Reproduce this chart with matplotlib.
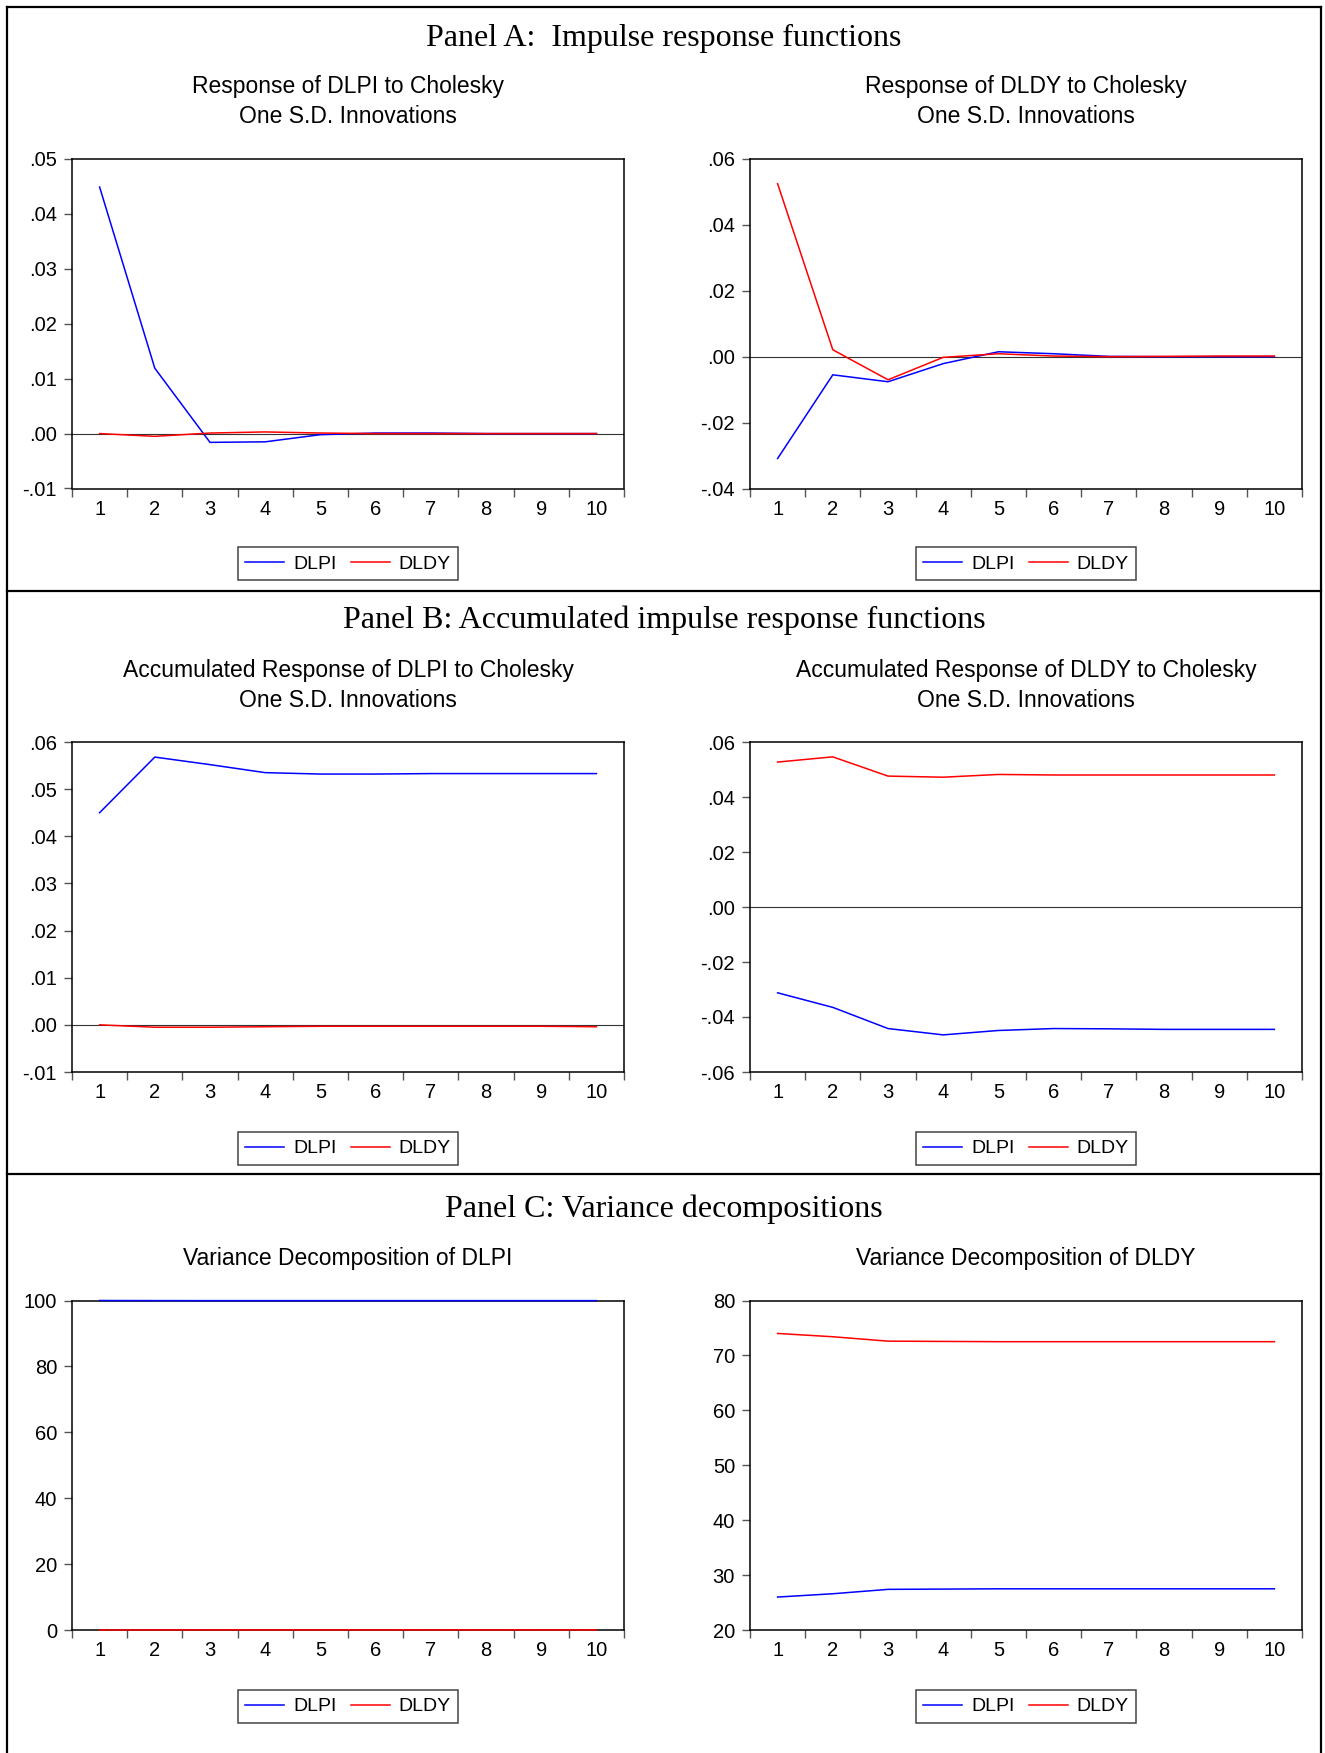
#!/usr/bin/env python3
"""Impulse responses, accumulated responses and variance decompositions (DLPI, DLDY)."""

import matplotlib

matplotlib.use("Agg")
import matplotlib.pyplot as plt
import numpy as np
from matplotlib.lines import Line2D
from matplotlib.ticker import FixedLocator, FuncFormatter, NullFormatter

periods = np.arange(1, 11)

irf_dlpi_dlpi = [0.0449, 0.0119, -0.0016, -0.0015, -0.0002, 0.0001, 0.0001, 0.0000, 0.0000, 0.0000]
irf_dlpi_dldy = [0.0000, -0.0005, 0.0001, 0.0003, 0.0001, 0.0000, 0.0000, 0.0000, 0.0000, 0.0000]
irf_dldy_dlpi = [-0.0309, -0.0055, -0.0076, -0.0021, 0.0015, 0.0009, 0.0001, 0.0000, 0.0000, 0.0000]
irf_dldy_dldy = [0.0525, 0.0021, -0.0070, -0.0002, 0.0009, 0.0002, 0.0000, 0.0001, 0.0002, 0.0002]

acc_dlpi_dlpi = [0.0450, 0.0568, 0.0552, 0.0535, 0.0532, 0.0532, 0.0533, 0.0533, 0.0533, 0.0533]
acc_dlpi_dldy = [0.0000, -0.0005, -0.0005, -0.0004, -0.0003, -0.0003, -0.0003, -0.0003, -0.0003, -0.0004]
acc_dldy_dlpi = [-0.0312, -0.0365, -0.0442, -0.0465, -0.0449, -0.0442, -0.0443, -0.0445, -0.0445, -0.0445]
acc_dldy_dldy = [0.0527, 0.0546, 0.0476, 0.0472, 0.0482, 0.0480, 0.0480, 0.0480, 0.0480, 0.0480]

vd_dlpi_dlpi = [100.0, 99.97, 99.96, 99.96, 99.96, 99.96, 99.96, 99.96, 99.96, 99.96]
vd_dlpi_dldy = [0.0, 0.03, 0.04, 0.04, 0.04, 0.04, 0.04, 0.04, 0.04, 0.04]
vd_dldy_dlpi = [26.0, 26.6, 27.4, 27.45, 27.5, 27.5, 27.5, 27.5, 27.5, 27.5]
vd_dldy_dldy = [74.0, 73.4, 72.6, 72.55, 72.5, 72.5, 72.5, 72.5, 72.5, 72.5]

series_names = ["DLPI", "DLDY"]

yticks_a_left = [-0.01, 0.00, 0.01, 0.02, 0.03, 0.04, 0.05]
yticks_a_right = [-0.04, -0.02, 0.00, 0.02, 0.04, 0.06]
yticks_b_left = [-0.01, 0.00, 0.01, 0.02, 0.03, 0.04, 0.05, 0.06]
yticks_b_right = [-0.06, -0.04, -0.02, 0.00, 0.02, 0.04, 0.06]
yticks_c_left = [0, 20, 40, 60, 80, 100]
yticks_c_right = [20, 30, 40, 50, 60, 70, 80]

panel_titles = [
    "Panel A:  Impulse response functions",
    "Panel B: Accumulated impulse response functions",
    "Panel C: Variance decompositions",
]

W, H = 1325, 1753
SANS = "Liberation Sans"
SERIF = "Liberation Serif"
COLORS = ["#0000ff", "#ff0000"]


def px_axes(fig, x0, y0, x1, y1):
    return fig.add_axes([x0 / W, 1 - y1 / H, (x1 - x0) / W, (y1 - y0) / H])


def dec_label(value, _pos=None):
    return f"{value:.2f}".replace("0.", ".", 1)


def draw_panel(fig, box, title, series, yticks, legend_top, decimals=True, zero_line=True,
               title_y=None):
    x0, y0, x1, y1 = box
    ax = px_axes(fig, x0, y0, x1, y1)
    for values, color, name in zip(series, COLORS, series_names):
        ax.plot(periods, values, color=color, linewidth=1.1, label=name, clip_on=False, zorder=3)
    if zero_line:
        ax.axhline(0, color="#333333", linewidth=0.8, zorder=2)

    ax.set_xlim(0.5, 10.5)
    ax.set_ylim(yticks[0], yticks[-1])

    ax.xaxis.set_major_locator(FixedLocator(np.arange(0.5, 11.0, 1.0)))
    ax.xaxis.set_major_formatter(NullFormatter())
    ax.xaxis.set_minor_locator(FixedLocator(periods))
    ax.xaxis.set_minor_formatter(FuncFormatter(lambda v, p: f"{int(v)}"))
    ax.tick_params(axis="x", which="major", direction="out", length=5.5, width=1.0,
                   color="#555555")
    ax.tick_params(axis="x", which="minor", length=0, pad=8, labelsize=14.5)

    ax.set_yticks(yticks)
    if decimals:
        ax.yaxis.set_major_formatter(FuncFormatter(dec_label))
    ax.tick_params(axis="y", direction="out", length=5.8, width=1.0, color="#555555",
                   pad=5, labelsize=14.5)
    for label in ax.get_xticklabels(minor=True) + ax.get_yticklabels():
        label.set_fontfamily(SANS)

    for spine in ax.spines.values():
        spine.set_linewidth(1.1)
        spine.set_color("black")

    cx = (x0 + x1) / 2
    fig.text(cx / W, 1 - title_y / H, title, ha="center", va="center", fontsize=16.5,
             family=SANS, linespacing=1.38)

    ax.legend(
        loc="upper center",
        bbox_to_anchor=(cx / W, 1 - legend_top / H),
        bbox_transform=fig.transFigure,
        ncol=2,
        frameon=True,
        fancybox=False,
        edgecolor="#444444",
        framealpha=1,
        prop={"family": SANS, "size": 14},
        handlelength=2.0,
        handletextpad=0.45,
        columnspacing=0.75,
        borderpad=0.4,
        borderaxespad=0,
    ).get_frame().set_linewidth(1.1)
    return ax


def main() -> None:
    fig = plt.figure(figsize=(W / 100, H / 100), dpi=100)

    left = (72, 624)
    right = (750, 1302)

    # Panel A
    draw_panel(fig, (left[0], 159, left[1], 488.5),
               "Response of DLPI to Cholesky\nOne S.D. Innovations",
               [irf_dlpi_dlpi, irf_dlpi_dldy], yticks_a_left, 547.3, title_y=101.5)
    draw_panel(fig, (right[0], 159, right[1], 488.5),
               "Response of DLDY to Cholesky\nOne S.D. Innovations",
               [irf_dldy_dlpi, irf_dldy_dldy], yticks_a_right, 547.3, title_y=101.5)

    # Panel B
    draw_panel(fig, (left[0], 742, left[1], 1072),
               "Accumulated Response of DLPI to Cholesky\nOne S.D. Innovations",
               [acc_dlpi_dlpi, acc_dlpi_dldy], yticks_b_left, 1132, title_y=685.5)
    draw_panel(fig, (right[0], 742, right[1], 1072),
               "Accumulated Response of DLDY to Cholesky\nOne S.D. Innovations",
               [acc_dldy_dlpi, acc_dldy_dldy], yticks_b_right, 1132, title_y=685.5)

    # Panel C
    draw_panel(fig, (left[0], 1300.5, left[1], 1630), "Variance Decomposition of DLPI",
               [vd_dlpi_dlpi, vd_dlpi_dldy], yticks_c_left, 1690, decimals=False,
               zero_line=False, title_y=1258)
    draw_panel(fig, (right[0], 1300.5, right[1], 1630), "Variance Decomposition of DLDY",
               [vd_dldy_dlpi, vd_dldy_dldy], yticks_c_right, 1690, decimals=False,
               zero_line=False, title_y=1258)

    for title, ty in zip(panel_titles, (38.5, 620.5, 1209.5)):
        fig.text(664 / W, 1 - ty / H, title, ha="center", va="center", fontsize=23,
                 family=SERIF)

    # outer frame and panel separators
    frame = dict(color="black", linewidth=1.6, transform=fig.transFigure)
    xl, xr, yt = 7.5 / W, 1321 / W, 1 - 7 / H
    fig.add_artist(Line2D([xl, xl], [0, yt], **frame))
    fig.add_artist(Line2D([xr, xr], [0, yt], **frame))
    for y in (7, 591, 1174):
        fig.add_artist(Line2D([xl, xr], [1 - y / H] * 2, **frame))

    fig.savefig("out.png", dpi=100)
    plt.close(fig)


if __name__ == "__main__":
    main()
